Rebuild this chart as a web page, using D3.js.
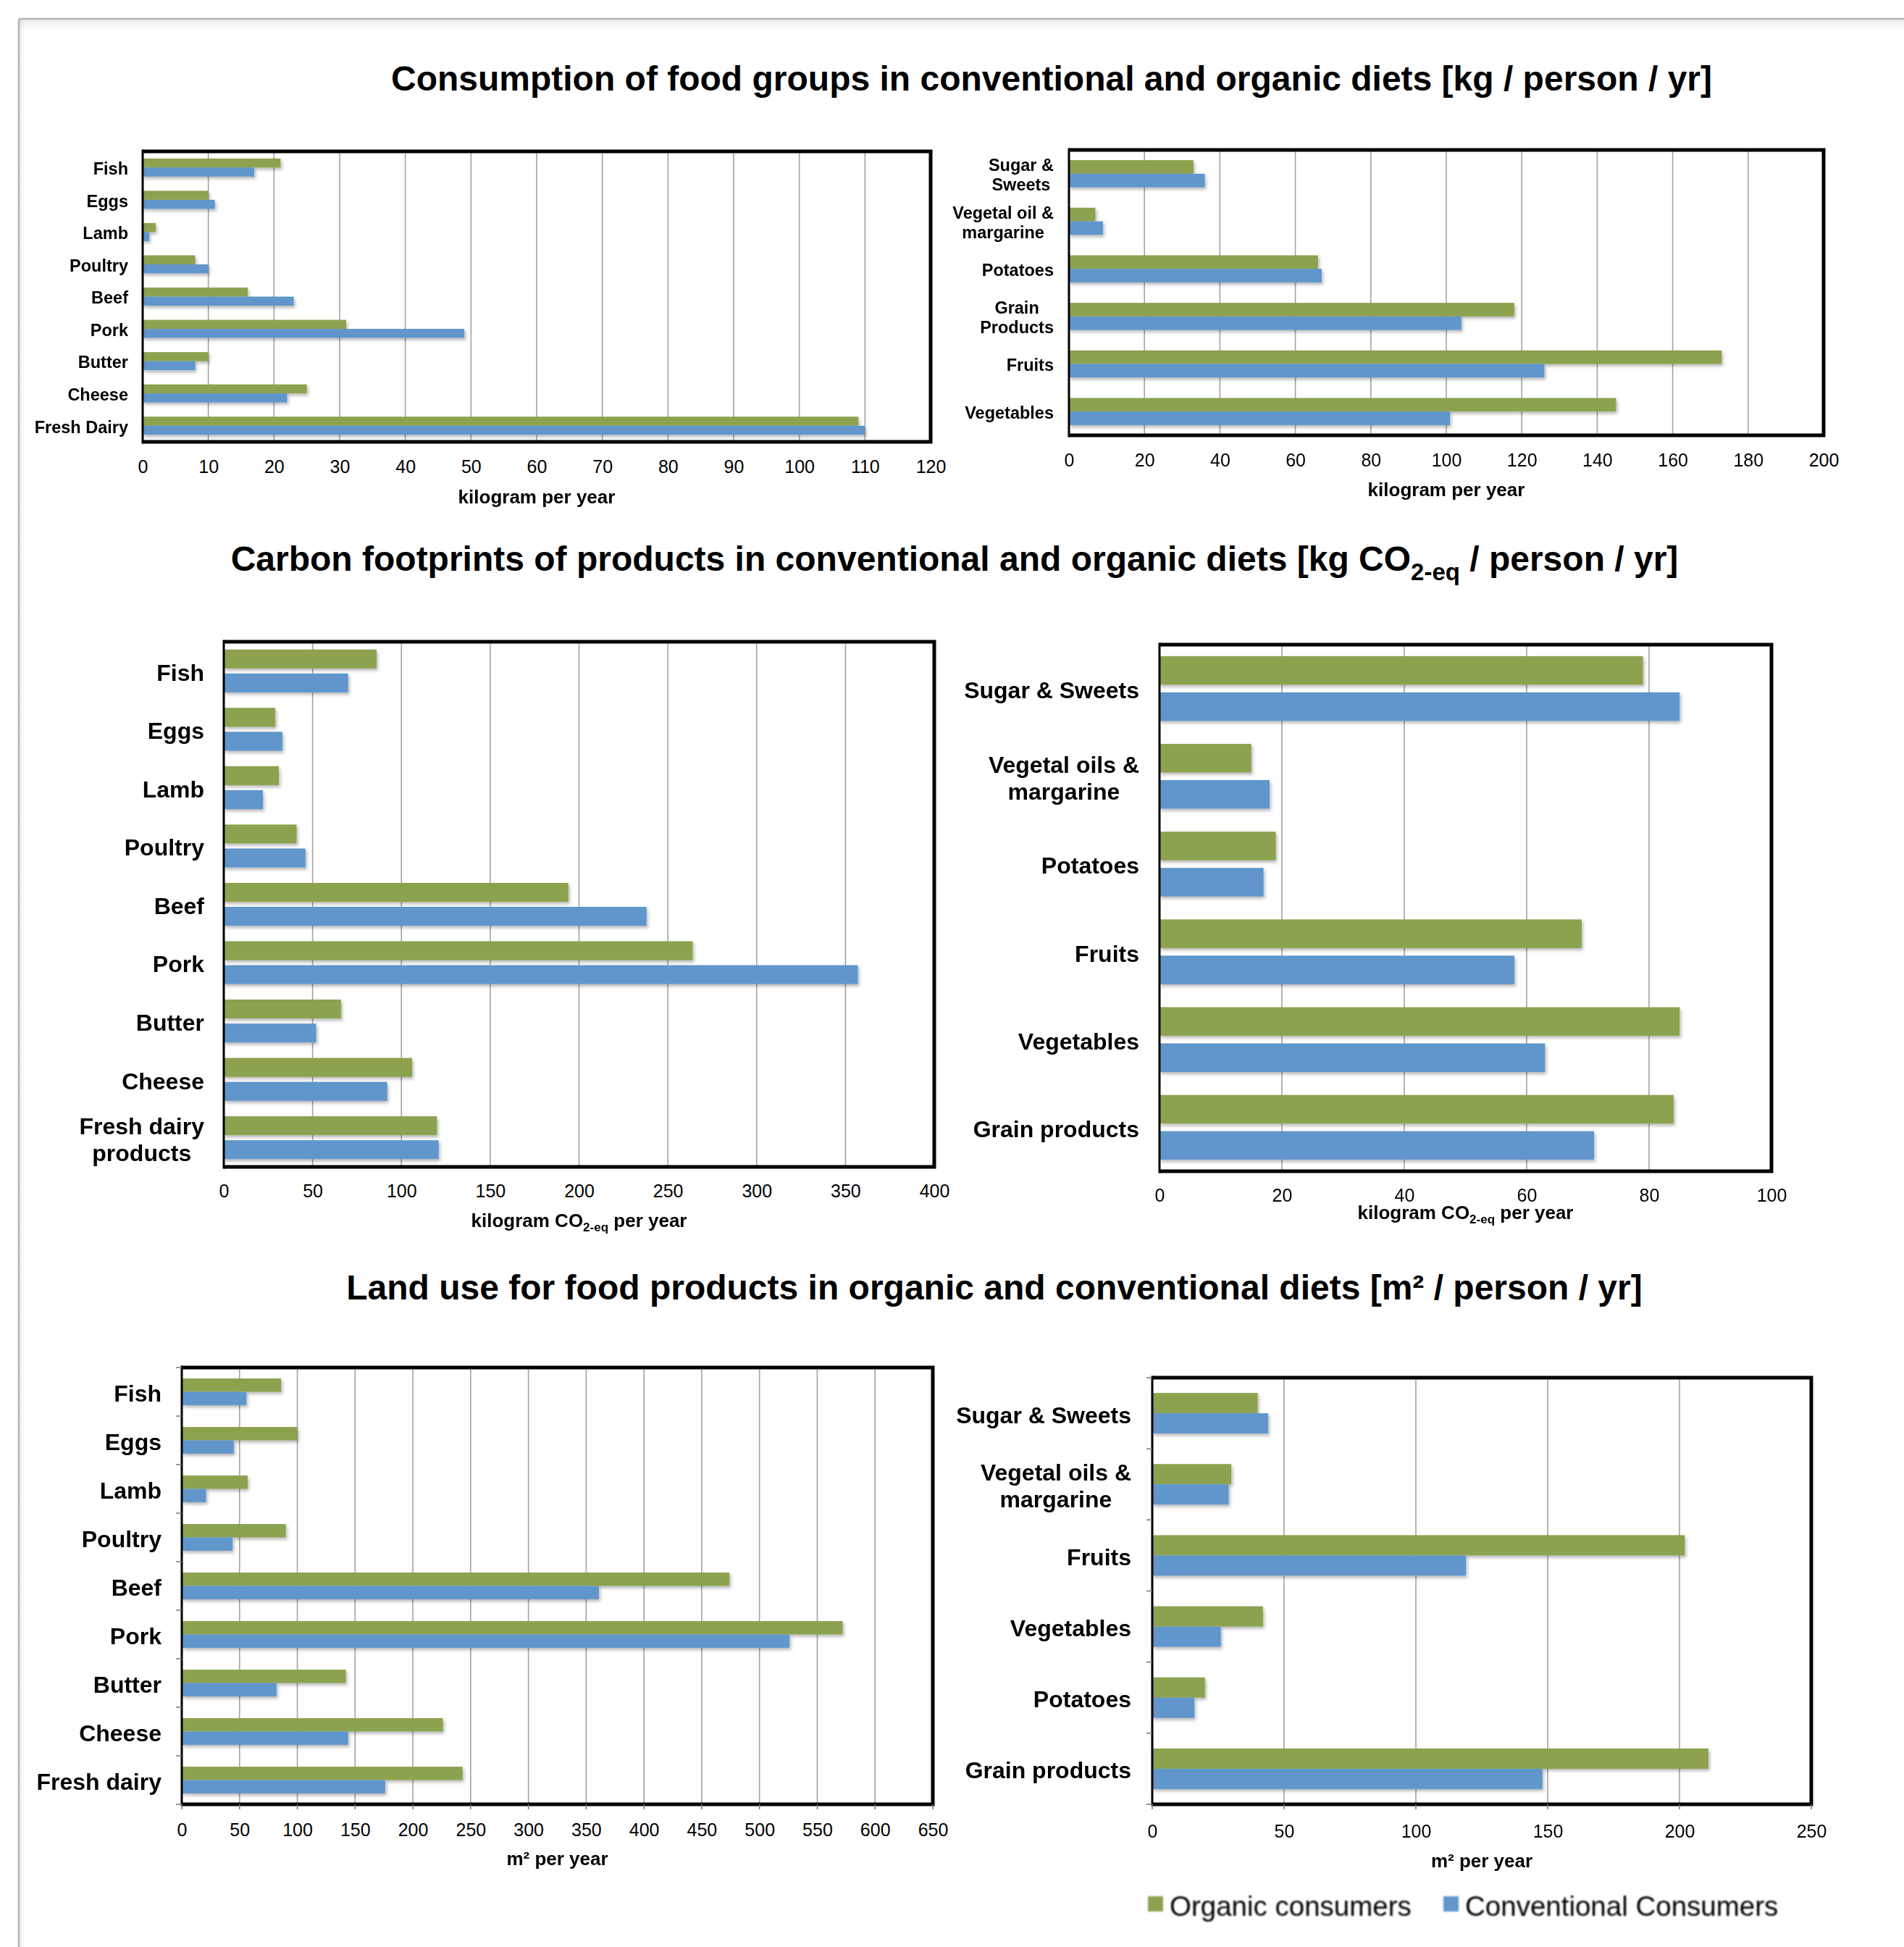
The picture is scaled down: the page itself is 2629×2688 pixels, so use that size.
<!DOCTYPE html>
<html>
<head>
<meta charset="utf-8">
<script src="https://cdn.jsdelivr.net/npm/d3@7"></script>
<style>
  html, body { margin: 0; padding: 0; background: #ffffff; }
  svg { display: block; }
  text { font-family: "Liberation Sans", Arial, Helvetica, sans-serif; fill: #000; }
</style>
</head>
<body>
<svg id="chart" width="2629" height="2688"></svg>
<script>
// ---- Consumption of food groups [kg / person / yr] ----
const consumptionAnimalCategories = ["Fish", "Eggs", "Lamb", "Poultry", "Beef", "Pork", "Butter", "Cheese", "Fresh Dairy"];
const consumptionAnimalOrganic = [21, 10, 2, 8, 16, 31, 10, 25, 109];
const consumptionAnimalConventional = [17, 11, 1, 10, 23, 49, 8, 22, 110];
const consumptionAnimalTicks = [0, 10, 20, 30, 40, 50, 60, 70, 80, 90, 100, 110, 120];

const consumptionPlantCategories = ["Sugar &\nSweets", "Vegetal oil &\nmargarine", "Potatoes", "Grain\nProducts", "Fruits", "Vegetables"];
const consumptionPlantOrganic = [33, 7, 66, 118, 173, 145];
const consumptionPlantConventional = [36, 9, 67, 104, 126, 101];
const consumptionPlantTicks = [0, 20, 40, 60, 80, 100, 120, 140, 160, 180, 200];

// ---- Carbon footprints [kg CO2-eq / person / yr] ----
const carbonAnimalCategories = ["Fish", "Eggs", "Lamb", "Poultry", "Beef", "Pork", "Butter", "Cheese", "Fresh dairy\nproducts"];
const carbonAnimalOrganic = [86, 29, 31, 41, 194, 264, 66, 106, 120];
const carbonAnimalConventional = [70, 33, 22, 46, 238, 357, 52, 92, 121];
const carbonAnimalTicks = [0, 50, 100, 150, 200, 250, 300, 350, 400];

const carbonPlantCategories = ["Sugar & Sweets", "Vegetal oils &\nmargarine", "Potatoes", "Fruits", "Vegetables", "Grain products"];
const carbonPlantOrganic = [79, 15, 19, 69, 85, 84];
const carbonPlantConventional = [85, 18, 17, 58, 63, 71];
const carbonPlantTicks = [0, 20, 40, 60, 80, 100];

// ---- Land use [m2 / person / yr] ----
const landAnimalCategories = ["Fish", "Eggs", "Lamb", "Poultry", "Beef", "Pork", "Butter", "Cheese", "Fresh dairy"];
const landAnimalOrganic = [86, 100, 57, 90, 474, 572, 142, 226, 243];
const landAnimalConventional = [56, 45, 21, 44, 361, 526, 82, 144, 176];
const landAnimalTicks = [0, 50, 100, 150, 200, 250, 300, 350, 400, 450, 500, 550, 600, 650];

const landPlantCategories = ["Sugar & Sweets", "Vegetal oils &\nmargarine", "Fruits", "Vegetables", "Potatoes", "Grain products"];
const landPlantOrganic = [40, 30, 202, 42, 20, 211];
const landPlantConventional = [44, 29, 119, 26, 16, 148];
const landPlantTicks = [0, 50, 100, 150, 200, 250];

const seriesNames = ["Organic consumers", "Conventional Consumers"];
const seriesColors = ["#8ca24f", "#6196cb"];

const svg = d3.select("#chart");
const defs = svg.append("defs");

// soft shadow under the bars
const shadow = defs.append("filter").attr("id", "barShadow")
  .attr("x", "-5%").attr("y", "-20%").attr("width", "115%").attr("height", "160%");
shadow.append("feDropShadow").attr("dx", 2).attr("dy", 3).attr("stdDeviation", 2)
  .attr("flood-color", "#000").attr("flood-opacity", 0.28);

const legendBlur = defs.append("filter").attr("id", "legendBlur");
legendBlur.append("feGaussianBlur").attr("stdDeviation", 0.9);

const topShade = defs.append("linearGradient").attr("id", "topShade")
  .attr("x1", 0).attr("y1", 0).attr("x2", 0).attr("y2", 1);
topShade.append("stop").attr("offset", "0%").attr("stop-color", "#000").attr("stop-opacity", 0.08);
topShade.append("stop").attr("offset", "100%").attr("stop-color", "#000").attr("stop-opacity", 0);
const leftShade = defs.append("linearGradient").attr("id", "leftShade")
  .attr("x1", 0).attr("y1", 0).attr("x2", 1).attr("y2", 0);
leftShade.append("stop").attr("offset", "0%").attr("stop-color", "#000").attr("stop-opacity", 0.06);
leftShade.append("stop").attr("offset", "100%").attr("stop-color", "#000").attr("stop-opacity", 0);

// page sheet edge
svg.append("rect").attr("x", 27).attr("y", 27).attr("width", 2602).attr("height", 14).attr("fill", "url(#topShade)");
svg.append("rect").attr("x", 27).attr("y", 27).attr("width", 8).attr("height", 2661).attr("fill", "url(#leftShade)");
svg.append("line").attr("x1", 26).attr("y1", 26).attr("x2", 2629).attr("y2", 26)
  .attr("stroke", "#b4b4b4").attr("stroke-width", 2.5);
svg.append("line").attr("x1", 26).attr("y1", 26).attr("x2", 26).attr("y2", 2688)
  .attr("stroke", "#b4b4b4").attr("stroke-width", 2.5);

// ---- section titles ----
const titleSize = 48;
svg.append("text").attr("x", 1452).attr("y", 108).attr("dy", "0.35em")
  .attr("text-anchor", "middle").attr("font-weight", "bold").attr("font-size", titleSize)
  .text("Consumption of food groups in conventional and organic diets [kg / person / yr]");

const t2 = svg.append("text").attr("x", 1318).attr("y", 771).attr("dy", "0.35em")
  .attr("text-anchor", "middle").attr("font-weight", "bold").attr("font-size", titleSize);
t2.append("tspan").text("Carbon footprints of products in conventional and organic diets [kg CO");
t2.append("tspan").attr("font-size", 33).attr("dy", 13).text("2-eq");
t2.append("tspan").attr("dy", -13).text(" / person / yr]");

svg.append("text").attr("x", 1373).attr("y", 1777).attr("dy", "0.35em")
  .attr("text-anchor", "middle").attr("font-weight", "bold").attr("font-size", titleSize)
  .text("Land use for food products in organic and conventional diets [m² / person / yr]");

// ---- one horizontal grouped bar panel ----
function drawPanel(cfg) {
  const g = svg.append("g");
  const x = d3.scaleLinear().domain([cfg.ticks[0], cfg.ticks[cfg.ticks.length - 1]]).range([cfg.x0, cfg.x1]);
  const y = d3.scaleBand().domain(cfg.categories).range([cfg.y0, cfg.y1])
    .paddingInner(cfg.pad).paddingOuter(cfg.pad / 2);
  const ySub = d3.scaleBand().domain([0, 1]).range([0, y.bandwidth()]).paddingInner(cfg.gap).paddingOuter(0);

  // vertical gridlines
  g.append("g").selectAll("line").data(cfg.ticks.slice(1, -1)).join("line")
    .attr("x1", d => x(d)).attr("x2", d => x(d))
    .attr("y1", cfg.y0).attr("y2", cfg.y1)
    .attr("stroke", "#a3a3a3").attr("stroke-width", 1.6);

  // bars
  const rows = cfg.categories.map((c, i) => ({ c, vals: [cfg.organic[i], cfg.conventional[i]] }));
  const rowG = g.append("g").attr("filter", "url(#barShadow)").selectAll("g").data(rows).join("g")
    .attr("transform", d => `translate(0,${y(d.c)})`);
  rowG.selectAll("rect").data(d => d.vals.map((v, k) => ({ v, k }))).join("rect")
    .attr("x", x(0))
    .attr("y", d => ySub(d.k))
    .attr("width", d => x(d.v) - x(0))
    .attr("height", ySub.bandwidth())
    .attr("fill", d => seriesColors[d.k]);

  // frame
  g.append("path")
    .attr("d", `M${cfg.x0},${cfg.y0}H${cfg.x1}V${cfg.y1}H${cfg.x0}`)
    .attr("fill", "none").attr("stroke", "#000").attr("stroke-width", 5).attr("stroke-linejoin", "miter");
  g.append("line").attr("x1", cfg.x0).attr("x2", cfg.x0).attr("y1", cfg.y0 - 2.5).attr("y2", cfg.y1 + 2.5)
    .attr("stroke", "#000").attr("stroke-width", 3);

  // small category tick marks on the left axis
  if (cfg.catTicks) {
    const bounds = d3.range(cfg.categories.length + 1).map(i => cfg.y0 + i * (cfg.y1 - cfg.y0) / cfg.categories.length);
    g.append("g").selectAll("line").data(bounds).join("line")
      .attr("x1", cfg.x0 - 8).attr("x2", cfg.x0)
      .attr("y1", d => d).attr("y2", d => d)
      .attr("stroke", "#777").attr("stroke-width", 1.5);
    g.append("g").selectAll("line").data(cfg.ticks).join("line")
      .attr("x1", d => x(d)).attr("x2", d => x(d))
      .attr("y1", cfg.y1).attr("y2", cfg.y1 + 7)
      .attr("stroke", "#777").attr("stroke-width", 1.5);
  }

  // value axis tick labels
  const axis = d3.axisBottom(x).tickValues(cfg.ticks).tickSize(0).tickPadding(0).tickFormat(d3.format("d"));
  const ax = g.append("g").attr("transform", `translate(0,${cfg.y1 + cfg.tickOffset})`).call(axis);
  ax.select(".domain").remove();
  ax.selectAll("text").attr("font-size", cfg.tickSize).attr("dy", "0.35em").attr("y", 0)
    .attr("font-family", "'Liberation Sans', Arial, sans-serif").attr("fill", "#000");

  // category labels (multi-line labels centred on each other, right-aligned as a block)
  const labelRight = cfg.x0 - cfg.labelGap;
  cfg.categories.forEach(c => {
    const lines = c.split("\n");
    const cy = y(c) + y.bandwidth() / 2;
    const texts = lines.map((ln, i) => g.append("text")
      .attr("y", cy + (i - (lines.length - 1) / 2) * cfg.lineHeight)
      .attr("dy", "0.42em").attr("text-anchor", "middle")
      .attr("font-weight", "bold").attr("font-size", cfg.labelSize).text(ln));
    const w = d3.max(texts, t => t.node().getComputedTextLength());
    texts.forEach(t => t.attr("x", labelRight - w / 2));
  });

  // axis title
  const at = g.append("text").attr("x", (cfg.x0 + cfg.x1) / 2).attr("y", cfg.y1 + cfg.titleOffset)
    .attr("dy", "0.35em").attr("text-anchor", "middle").attr("font-weight", "bold").attr("font-size", 26);
  cfg.axisTitle(at);
}

const kgTitle = t => t.text("kilogram per year");
const co2Title = t => {
  t.append("tspan").text("kilogram CO");
  t.append("tspan").attr("font-size", 17).attr("dy", 6).text("2-eq");
  t.append("tspan").attr("dy", -6).text(" per year");
};
const m2Title = t => t.text("m² per year");

drawPanel({
  categories: consumptionAnimalCategories, organic: consumptionAnimalOrganic, conventional: consumptionAnimalConventional,
  ticks: consumptionAnimalTicks, x0: 197, x1: 1285, y0: 209, y1: 610, pad: 0.44, gap: 0,
  labelGap: 20, labelSize: 23.5, lineHeight: 27, tickSize: 25, tickOffset: 34, titleOffset: 76, axisTitle: kgTitle
});
drawPanel({
  categories: consumptionPlantCategories, organic: consumptionPlantOrganic, conventional: consumptionPlantConventional,
  ticks: consumptionPlantTicks, x0: 1476, x1: 2518, y0: 207, y1: 601, pad: 0.43, gap: 0,
  labelGap: 21, labelSize: 23.5, lineHeight: 27, tickSize: 25, tickOffset: 34, titleOffset: 75, axisTitle: kgTitle
});
drawPanel({
  categories: carbonAnimalCategories, organic: carbonAnimalOrganic, conventional: carbonAnimalConventional,
  ticks: carbonAnimalTicks, x0: 309, x1: 1290, y0: 886, y1: 1611, pad: 0.265, gap: 0.21,
  labelGap: 27, labelSize: 32, lineHeight: 37, tickSize: 25, tickOffset: 33, titleOffset: 74, axisTitle: co2Title
});
drawPanel({
  categories: carbonPlantCategories, organic: carbonPlantOrganic, conventional: carbonPlantConventional,
  ticks: carbonPlantTicks, x0: 1601, x1: 2446, y0: 890, y1: 1617, pad: 0.262, gap: 0.21,
  labelGap: 28, labelSize: 32, lineHeight: 37, tickSize: 25, tickOffset: 33, titleOffset: 57, axisTitle: co2Title
});
drawPanel({
  categories: landAnimalCategories, organic: landAnimalOrganic, conventional: landAnimalConventional,
  ticks: landAnimalTicks, x0: 251, x1: 1288, y0: 1888, y1: 2491, pad: 0.45, gap: 0, catTicks: true,
  labelGap: 28, labelSize: 32, lineHeight: 37, tickSize: 25, tickOffset: 35, titleOffset: 75, axisTitle: m2Title
});
drawPanel({
  categories: landPlantCategories, organic: landPlantOrganic, conventional: landPlantConventional,
  ticks: landPlantTicks, x0: 1591, x1: 2501, y0: 1902, y1: 2491, pad: 0.43, gap: 0, catTicks: true,
  labelGap: 29, labelSize: 32, lineHeight: 37, tickSize: 25, tickOffset: 37, titleOffset: 78, axisTitle: m2Title
});

// ---- legend ----
const legend = svg.append("g").attr("filter", "url(#legendBlur)");
const legendX = [1585, 1993];
seriesNames.forEach((name, i) => {
  legend.append("rect").attr("x", legendX[i]).attr("y", 2618).attr("width", 21).attr("height", 21)
    .attr("fill", seriesColors[i]);
  legend.append("text").attr("x", legendX[i] + 30).attr("y", 2645)
    .attr("font-size", 38.5).attr("fill", "#1a1a1a").text(name);
});
</script>
</body>
</html>
